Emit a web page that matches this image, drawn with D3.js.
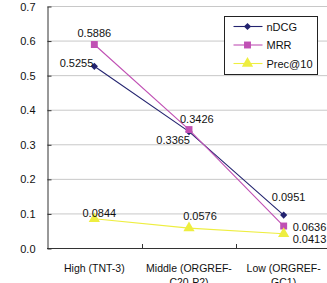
<!DOCTYPE html>
<html><head><meta charset="utf-8">
<script src="https://cdn.jsdelivr.net/npm/d3@7/dist/d3.min.js"></script>
<style>
html,body{margin:0;padding:0;background:#fff;overflow:hidden}
svg{display:block}
text{font-family:"Liberation Sans",Arial,sans-serif;fill:#111}
</style></head>
<body><svg id="c" width="327" height="283"></svg>
<script>
const categories = ["High (TNT-3)", "Middle (ORGREF-\nC20-P2)", "Low (ORGREF-\nGC1)"];
const seriesNames = ["nDCG", "MRR", "Prec@10"];
const ndcg = [0.5255, 0.3365, 0.0951];
const mrr = [0.5886, 0.3426, 0.0636];
const prec10 = [0.0844, 0.0576, 0.0413];
const yTicks = [0.0, 0.1, 0.2, 0.3, 0.4, 0.5, 0.6, 0.7];

const colors = ["#23236f", "#c050b4", "#eeee40"];
const symbols = [d3.symbolSquare, d3.symbolSquare, d3.symbolTriangle];
const symSizes = [26, 48, 55];
const symRot = [45, 0, 0];
// label placement per series per category: [dx, dy, anchor]
const labelPlace = [
  [[-1, 1, "end"], [1, 12, "end"], [5, -14, "middle"]],
  [[0, -8, "middle"], [-9, -7, "start"], [9, 5, "start"]],
  [[5, -2, "middle"], [11, -8, "middle"], [9, 9, "start"]]
];
const values = [ndcg, mrr, prec10];

const svg = d3.select("#c");
const x0 = 47, plotRight = 331, yTop = 6, yBot = 248;
const x = d3.scaleBand().domain(categories).range([x0, plotRight]).padding(0);
const cx = c => x(c) + x.bandwidth() / 2;
const y = d3.scaleLinear().domain([0, 0.7]).range([yBot, yTop]);

// gridlines
svg.append("g").selectAll("line").data(yTicks.filter(t => t > 0)).join("line")
  .attr("x1", x0).attr("x2", 327).attr("y1", d => y(d) + 0.5).attr("y2", d => y(d) + 0.5)
  .attr("stroke", "#c8c8c8").attr("stroke-width", 1);

// y axis
const yAxis = d3.axisLeft(y).tickValues(yTicks).tickFormat(d3.format(".1f")).tickSizeInner(-4).tickSizeOuter(0).tickPadding(12);
const gy = svg.append("g").attr("transform", `translate(${x0 + 0.5},0.5)`).call(yAxis);
gy.select(".domain").attr("stroke", "#333");
gy.selectAll(".tick line").attr("stroke", "#333");
gy.selectAll(".tick text").attr("font-size", 11).attr("fill", "#111")
  .attr("font-family", '"Liberation Sans",Arial,sans-serif');

// x axis
svg.append("line").attr("x1", x0).attr("x2", 327).attr("y1", yBot + 0.5).attr("y2", yBot + 0.5)
  .attr("stroke", "#333");
svg.append("g").selectAll("line").data(categories.slice(1)).join("line")
  .attr("x1", d => Math.round(x(d)) + 0.5).attr("x2", d => Math.round(x(d)) + 0.5)
  .attr("y1", yBot).attr("y2", yBot - 4).attr("stroke", "#333");
const xl = svg.append("g").selectAll("text").data(categories).join("text")
  .attr("x", d => cx(d)).attr("y", yBot + 24).attr("text-anchor", "middle")
  .attr("font-size", 10.5).attr("font-family", '"Noto Sans CJK JP","Noto Sans",sans-serif').attr("fill", "#111");
xl.each(function (d) {
  const lines = d.split("\n");
  lines.forEach((l, i) => d3.select(this).append("tspan").attr("x", cx(d)).attr("dy", i ? 14 : 0).text(l));
});

// series
values.forEach((vals, s) => {
  const pts = categories.map((c, i) => [cx(c), y(vals[i])]);
  svg.append("path").attr("d", d3.line()(pts)).attr("fill", "none")
    .attr("stroke", colors[s]).attr("stroke-width", 1.1);
});
values.forEach((vals, s) => {
  categories.forEach((c, i) => {
    svg.append("path").attr("d", d3.symbol(symbols[s], symSizes[s])())
      .attr("transform", `translate(${cx(c)},${y(vals[i])}) rotate(${symRot[s]})`).attr("fill", colors[s]);
  });
});
values.forEach((vals, s) => {
  categories.forEach((c, i) => {
    const [dx, dy, anchor] = labelPlace[s][i];
    svg.append("text").attr("x", cx(c) + dx).attr("y", y(vals[i]) + dy)
      .attr("text-anchor", anchor).attr("font-size", 11).text(vals[i].toFixed(4));
  });
});

// legend
const lg = svg.append("g").attr("transform", "translate(224.5,16.5)");
lg.append("rect").attr("width", 93).attr("height", 58).attr("fill", "#fff").attr("stroke", "#222");
seriesNames.forEach((n, s) => {
  const ly = 10 + s * 18.5;
  lg.append("line").attr("x1", 9).attr("x2", 38).attr("y1", ly).attr("y2", ly).attr("stroke", colors[s]).attr("stroke-width", 1.1);
  lg.append("path").attr("d", d3.symbol(symbols[s], symSizes[s])()).attr("transform", `translate(23,${ly}) rotate(${symRot[s]})`).attr("fill", colors[s]);
  lg.append("text").attr("x", 42).attr("y", ly + 4).attr("font-size", 11).text(n);
});
</script></body></html>
